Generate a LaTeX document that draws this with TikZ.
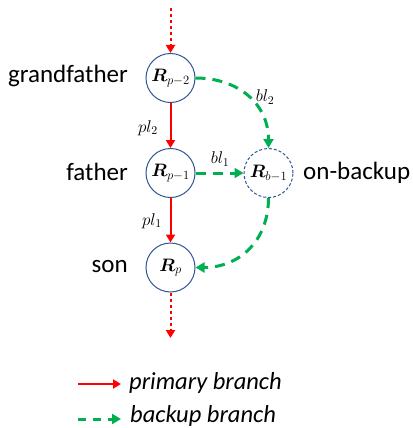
\RequirePackage{fix-cm}
\documentclass[tikz,border=0pt]{standalone}
\usepackage{amsmath,bm}
\usepackage{fontspec}
\setmainfont{Carlito}
\usetikzlibrary{arrows.meta}
\definecolor{pred}{HTML}{FF0000}
\definecolor{bgreen}{HTML}{00B050}
\definecolor{nblue}{HTML}{2F5597}
\tikzset{
  router/.style={circle, draw=nblue, line width=1pt, minimum size=49pt, inner sep=0pt, font=\fontsize{18}{20}\selectfont},
  backupnode/.style={router, dashed, dash pattern=on 3pt off 2pt},
  primary/.style={draw=pred, line width=2pt, -{Triangle[length=8pt,width=9pt]}},
  dotprimary/.style={primary, dash pattern=on 3pt off 3pt},
  backup/.style={draw=bgreen, line width=3pt, dash pattern=on 10pt off 7pt, -{Triangle[length=9pt,width=10pt]}},
  role/.style={font=\fontsize{25}{28}\selectfont, inner sep=0pt},
  linklabel/.style={font=\fontsize{17}{19}\selectfont, inner sep=0pt},
  legendtext/.style={font=\fontsize{24.5}{27}\selectfont\itshape, inner sep=0pt, anchor=west}
}
\begin{document}
\begin{tikzpicture}[x=1pt,y=-1pt]
\useasboundingbox (0,0) rectangle (412,428);

% routers
\node[router] (gf) at (170.5,78) {$\bm{R}_{p-2}$};
\node[router] (fa) at (170.5,173) {$\bm{R}_{p-1}$};
\node[router] (so) at (170.5,267.5) {$\bm{R}_{p}$};
\node[backupnode] (ob) at (268.5,173) {$\bm{R}_{b-1}$};

% role names
\node[role, anchor=east] at (128,76) {grandfather};
\node[role, anchor=east] at (128,172) {father};
\node[role, anchor=east] at (128,267) {son};
\node[role, anchor=west] at (303,173) {on-backup};

% primary branch
\coordinate (top) at (170.5,8);
\coordinate (bot) at (170.5,338);
\draw[dotprimary] (top) -- (gf.north);
\draw[primary] (gf) -- (fa);
\draw[primary] (fa) -- (so);
\draw[dotprimary] (so.south) -- (bot);

% backup branch
\draw[backup] (gf.east) to[out=0, in=90, looseness=1.1] (ob.north);
\draw[backup] (fa) -- (ob);
\draw[backup] (ob.south) to[out=-90, in=0, looseness=1.1] (so.east);

% link labels
\node[linklabel] at (148,128) {$pl_2$};
\node[linklabel] at (265,97) {$bl_2$};
\node[linklabel] at (220,159) {$bl_1$};
\node[linklabel] at (152,221) {$pl_1$};

% legend
\coordinate (l1a) at (78,384);
\coordinate (l1b) at (121,384);
\coordinate (l2a) at (78,419);
\coordinate (l2b) at (121,419);
\draw[primary] (l1a) -- (l1b);
\draw[backup, dash pattern=on 8pt off 7pt] (l2a) -- (l2b);
\node[legendtext] at (129,383) {primary branch};
\node[legendtext] at (130,416) {backup branch};
\end{tikzpicture}
\end{document}
